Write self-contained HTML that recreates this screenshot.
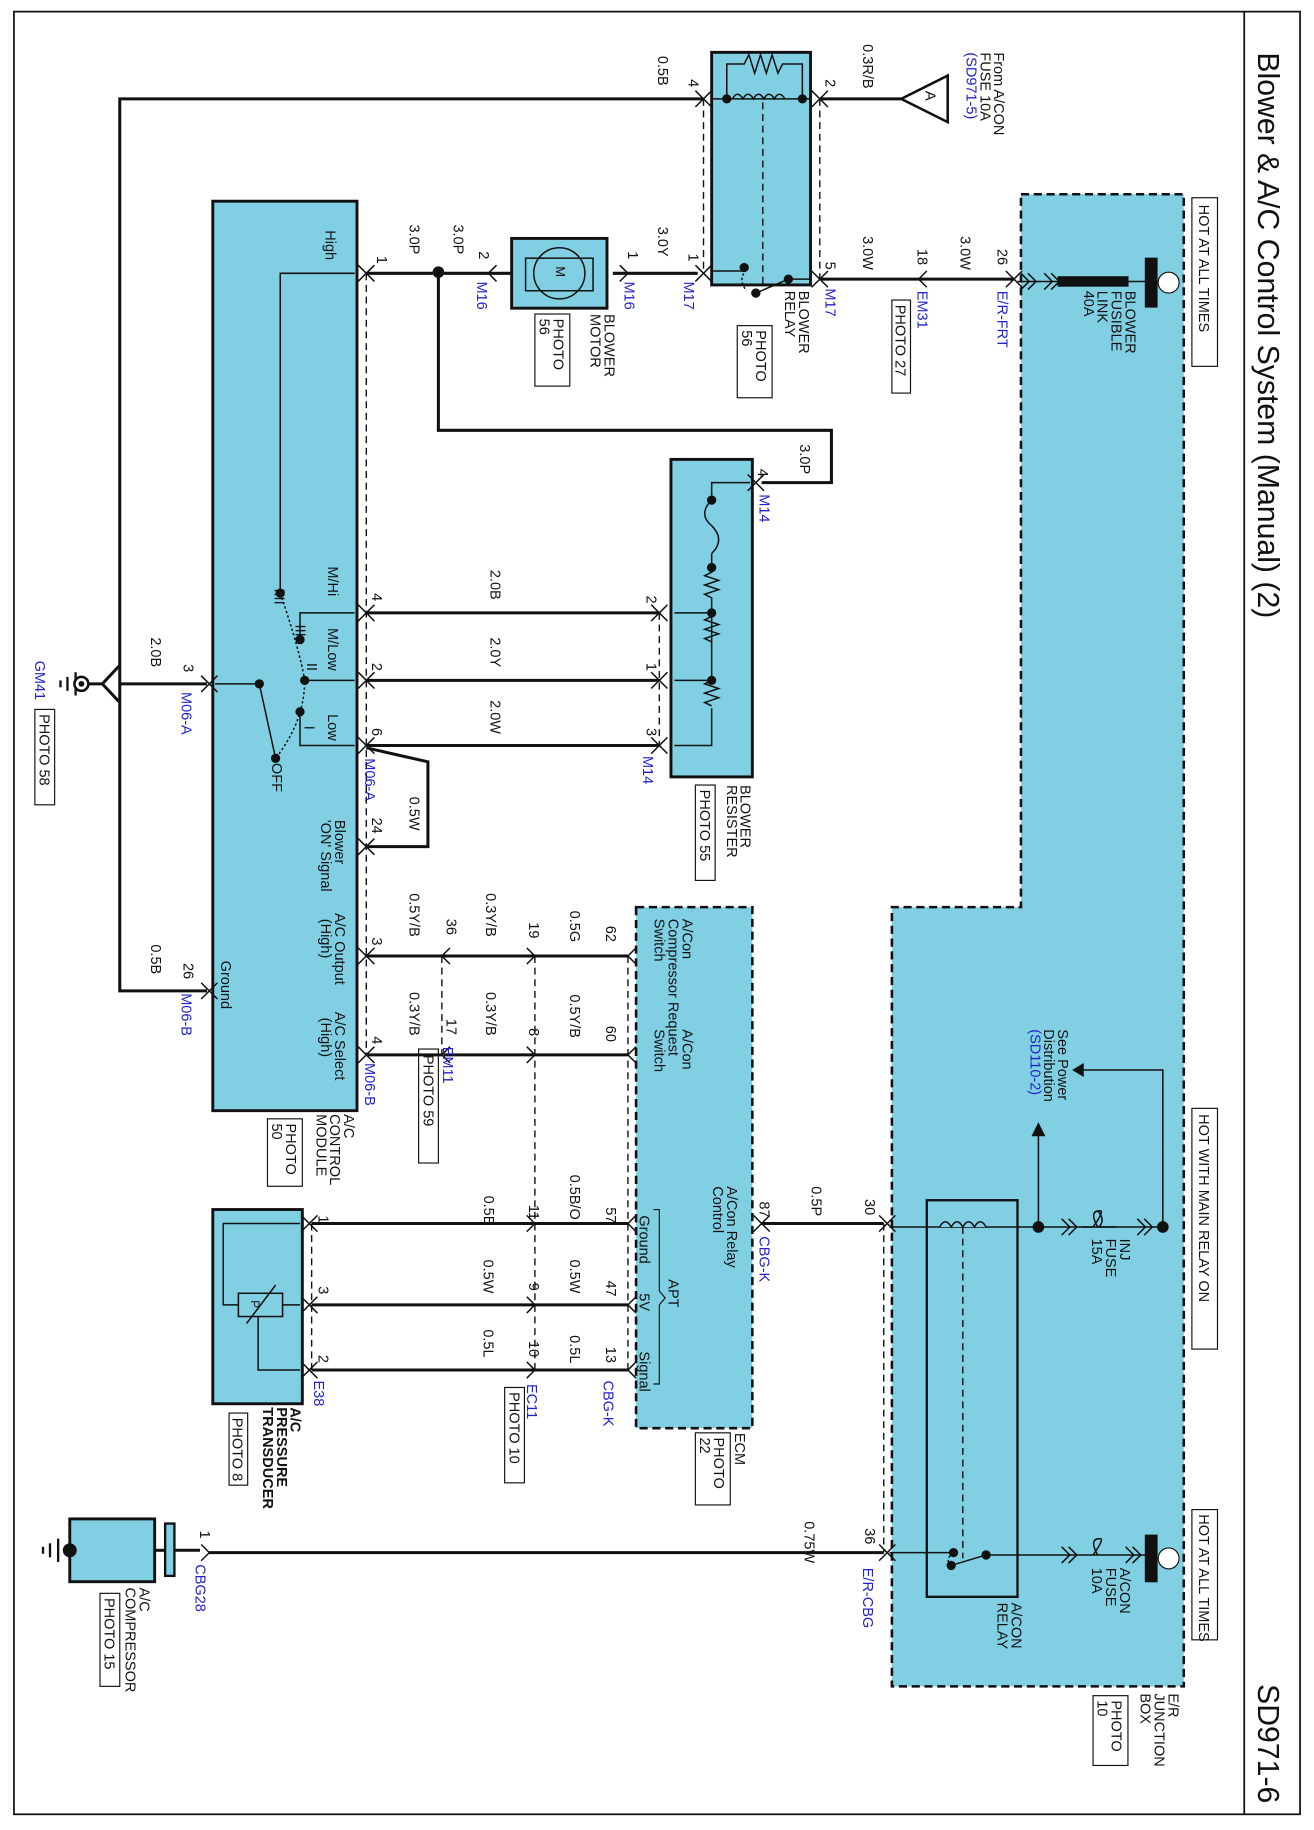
<!DOCTYPE html>
<html><head><meta charset="utf-8"><style>
html,body{margin:0;padding:0;background:#fff}
svg{display:block}
text{font-family:"Liberation Sans",sans-serif;font-size:12.5px;fill:#111}
.b{fill:#2222cc}
.t{font-size:26px}
.bd{font-weight:bold}
</style></head><body>
<svg width="1314" height="1830" viewBox="0 0 1130 1573.5" preserveAspectRatio="none" xmlns="http://www.w3.org/2000/svg">
<defs>
<path id="cv" d="M-7,-7 L0,0 L-7,7 M7,-7 L0,0 L7,7" fill="none" stroke="#111" stroke-width="1.3"/>
<path id="cl" d="M7,-7 L0,0 L7,7" fill="none" stroke="#111" stroke-width="1.3"/>
<path id="cr" d="M-7,-7 L0,0 L-7,7" fill="none" stroke="#111" stroke-width="1.3"/>
<path id="dcr" d="M-7,-7 L0,0 L-7,7 M-1,-7 L6,0 L-1,7" fill="none" stroke="#111" stroke-width="1.3"/>
</defs>
<rect x="12" y="10" width="1106" height="1550" fill="none" stroke="#111" stroke-width="1.5"/>
<line x1="1070" y1="10" x2="1070" y2="1560" stroke="#111" stroke-width="1.5"/>
<text class="t" x="1082" y="45" transform="rotate(90 1082 45)">Blower &amp; A/C Control System    (Manual) (2)</text>
<text class="t" x="1082" y="1448" transform="rotate(90 1082 1448)">SD971-6</text>

<path d="M878,167 L1018,167 L1018,1450 L767,1450 L767,780 L878,780 Z" fill="#80cfe2" stroke="#111" stroke-width="2.2" stroke-dasharray="7,4"/>
<rect x="183" y="173" width="124" height="782" fill="#80cfe2" stroke="#111" stroke-width="2.5"/>
<rect x="577" y="395" width="70" height="273" fill="#80cfe2" stroke="#111" stroke-width="2.5"/>
<rect x="547" y="780" width="100" height="448" fill="#80cfe2" stroke="#111" stroke-width="2.2" stroke-dasharray="7,4"/>
<rect x="612" y="45" width="85" height="200" fill="#80cfe2" stroke="#111" stroke-width="2.5"/>
<rect x="440" y="205" width="82" height="60" fill="#80cfe2" stroke="#111" stroke-width="2.5"/>
<rect x="183" y="1040" width="77" height="167" fill="#80cfe2" stroke="#111" stroke-width="2.5"/>
<rect x="60" y="1306" width="73" height="54" fill="#80cfe2" stroke="#111" stroke-width="2.5"/>
<rect x="142" y="1310" width="8" height="45" fill="#80cfe2" stroke="#111" stroke-width="2"/>
<rect x="797" y="1032" width="78" height="341" fill="none" stroke="#111" stroke-width="2"/>

<rect x="1025" y="170" width="22" height="145" fill="#fff" stroke="#111"/>
<text x="1031" y="176" transform="rotate(90 1031 176)">HOT AT ALL TIMES</text>
<rect x="1025" y="953" width="22" height="207" fill="#fff" stroke="#111"/>
<text x="1031" y="958" transform="rotate(90 1031 958)">HOT WITH MAIN RELAY ON</text>
<rect x="1025" y="1298" width="22" height="112" fill="#fff" stroke="#111"/>
<text x="1031" y="1302" transform="rotate(90 1031 1302)">HOT AT ALL TIMES</text>

<g stroke="#111" fill="none">
<g stroke-width="2.6">
<polyline points="775,85 705,85"/>
<polyline points="605,85 103,85 103,852 178,852"/>
<line x1="103" y1="588" x2="178" y2="588"/>
<polyline points="75,588 88,588 103,572"/>
<polyline points="88,588 103,604"/>
<line x1="600" y1="235" x2="527" y2="235"/>
<line x1="440" y1="235" x2="315" y2="235"/>
<polyline points="377,235 377,370 715,370 715,415 655,415"/>
<line x1="705" y1="240" x2="872" y2="240"/>
<line x1="315" y1="527" x2="567" y2="527"/>
<line x1="315" y1="585" x2="567" y2="585"/>
<line x1="315" y1="641" x2="567" y2="641"/>
<polyline points="315,643 368,655 368,728 315,728"/>
<line x1="315" y1="822" x2="540" y2="822"/>
<line x1="315" y1="907" x2="540" y2="907"/>
<line x1="268" y1="1052" x2="540" y2="1052"/>
<line x1="268" y1="1122" x2="540" y2="1122"/>
<line x1="268" y1="1178" x2="540" y2="1178"/>
<line x1="655" y1="1052" x2="760" y2="1052"/>
<line x1="180" y1="1335" x2="760" y2="1335"/>
<line x1="133" y1="1333" x2="142" y2="1333"/>
<line x1="150" y1="1333" x2="172" y2="1333"/>
</g>
<polygon points="775,85 815,65 815,105" stroke-width="2.2" fill="#fff"/>
<g stroke-width="1.2" stroke-dasharray="6,4">
<line x1="605" y1="85" x2="605" y2="235"/>
<line x1="705" y1="85" x2="705" y2="240"/>
<line x1="315" y1="235" x2="315" y2="907"/>
<line x1="567" y1="527" x2="567" y2="641"/>
<line x1="380" y1="822" x2="380" y2="907"/>
<line x1="460" y1="822" x2="460" y2="1178"/>
<line x1="540" y1="822" x2="540" y2="1178"/>
<line x1="268" y1="1052" x2="268" y2="1178"/>
<line x1="760" y1="1052" x2="760" y2="1335"/>
<line x1="656" y1="88" x2="656" y2="245"/>
<line x1="828" y1="1055" x2="828" y2="1340"/>
</g>
<g stroke-width="1.3">
<line x1="612" y1="85" x2="697" y2="85"/>
<path d="M625,85 L625,55 L640,55 l4,-8 l5,16 l5,-16 l5,16 l5,-16 l5,16 l4,-8 L690,55 L690,85"/>
<path d="M630,85 q4,-8 9,0 q4,-8 9,0 q4,-8 9,0 q4,-8 9,0 q4,-8 9,0"/>
<polyline points="612,233 640,233 640,230"/>
<polyline points="697,240 678,240 650,252"/>
<path d="M642,232 q-8,8 0,18" stroke-dasharray="2,2"/>
<circle cx="481" cy="235" r="22"/>
<rect x="452" y="222" width="58" height="28"/>
<polyline points="645,415 612,415 612,430"/>
<path d="M612,430 q-12,12 0,22 q12,12 0,24"/>
<path d="M612,476 L612,492 l-6,3 l12,4 l-12,4 l12,4 l-12,4 l6,3 L612,585 l-6,3 l12,4 l-12,4 l12,4 l-12,4 l6,3"/>
<path d="M612,530 l-6,3 l12,4 l-12,4 l12,4 l-12,4 l6,3"/>
<path d="M612,609 L612,641 L580,641"/>
<line x1="580" y1="527" x2="612" y2="527"/>
<line x1="580" y1="585" x2="612" y2="585"/>
<polyline points="305,235 241,235 241,510"/>
<polyline points="305,527 258,527 258,550"/>
<line x1="305" y1="585" x2="262" y2="585"/>
<polyline points="305,641 258,641 258,612"/>
<line x1="185" y1="588" x2="223" y2="588"/>
<line x1="223" y1="588" x2="237" y2="652"/>
<path d="M241,510 Q258,560 262,585 Q262,620 237,652" stroke-dasharray="2,2"/>
<polyline points="258,1052 192,1052 192,1122 205,1122"/>
<rect x="205" y="1112" width="38" height="20"/>
<line x1="243" y1="1122" x2="258" y2="1122"/>
<polyline points="222,1132 222,1178 258,1178"/>
<line x1="212" y1="1138" x2="237" y2="1105"/>
<line x1="765" y1="1055" x2="1000" y2="1055"/>
<path d="M808,1055 q5,-9 10,0 q5,-9 10,0 q5,-9 10,0 q5,-9 10,0" fill="#80cfe2"/>
<path d="M930,1055 L940,1055 q10,-14 6,-14 q-10,0 -2,14 L960,1055"/>
<path d="M945,1055 q6,-6 -1,-14" />
<polyline points="1000,1055 1000,920 925,920"/>
<line x1="893" y1="1055" x2="893" y2="975"/>
<line x1="765" y1="1335" x2="820" y2="1335"/>
<line x1="818" y1="1346" x2="848" y2="1337"/>
<line x1="848" y1="1337" x2="990" y2="1337"/>
<path d="M820,1335 q-8,6 -2,11" stroke-dasharray="2,2"/>
<path d="M940,1337 q10,-14 6,-14 q-10,0 -2,14"/>
<line x1="875" y1="242" x2="910" y2="242"/>
</g>
<rect x="910" y="238" width="60" height="8" fill="#111"/>
<rect x="985" y="222" width="10" height="42" fill="#111"/>
<circle cx="1005" cy="243" r="9" fill="#fff" stroke="#111"/>
<rect x="985" y="1320" width="10" height="40" fill="#111"/>
<circle cx="1005" cy="1340" r="9" fill="#fff" stroke="#111"/>
<line x1="970" y1="242" x2="985" y2="242" stroke-width="1.3"/>
<polygon points="922,920 932,914 932,926" fill="#111" stroke="none"/>
<polygon points="893,965 887,977 899,977" fill="#111" stroke="none"/>
<g stroke-width="2">
<line x1="65" y1="578" x2="65" y2="598"/><line x1="58" y1="582" x2="58" y2="594"/><line x1="52" y1="585" x2="52" y2="591"/>
<line x1="50" y1="1323" x2="50" y2="1343"/><line x1="43" y1="1327" x2="43" y2="1339"/><line x1="37" y1="1330" x2="37" y2="1336"/>
</g>
<circle cx="70" cy="588" r="6" stroke-width="2.2" fill="#fff"/>
</g>
<g fill="#111">
<circle cx="70" cy="588" r="2.5"/>
<circle cx="60" cy="1333" r="6"/>
<circle cx="377" cy="234" r="5"/>
<circle cx="625" cy="85" r="4"/><circle cx="690" cy="85" r="4"/>
<circle cx="640" cy="230" r="4"/><circle cx="678" cy="240" r="4"/><circle cx="650" cy="252" r="4"/>
<circle cx="612" cy="430" r="4"/><circle cx="612" cy="488" r="4"/><circle cx="612" cy="527" r="4"/><circle cx="612" cy="585" r="4"/>
<circle cx="241" cy="510" r="4"/><circle cx="258" cy="550" r="4"/><circle cx="262" cy="585" r="4"/><circle cx="258" cy="612" r="4"/><circle cx="223" cy="588" r="4"/><circle cx="237" cy="652" r="4"/>
<circle cx="1000" cy="1055" r="5"/><circle cx="893" cy="1055" r="5"/>
<circle cx="820" cy="1335" r="4"/><circle cx="818" cy="1346" r="4"/><circle cx="848" cy="1337" r="4"/>
</g>
<use href="#cv" x="705" y="85"/><use href="#cv" x="605" y="85"/>
<use href="#cv" x="605" y="235"/><use href="#cv" x="705" y="240"/>
<use href="#cl" x="790" y="240"/><use href="#cv" x="872" y="240"/>
<use href="#cr" x="540" y="235"/><use href="#cl" x="420" y="235"/>
<use href="#cv" x="315" y="235"/><use href="#cv" x="650" y="415"/>
<use href="#cv" x="315" y="527"/><use href="#cv" x="315" y="585"/><use href="#cv" x="315" y="641"/><use href="#cv" x="315" y="728"/>
<use href="#cv" x="315" y="822"/><use href="#cv" x="315" y="907"/>
<use href="#cv" x="567" y="527"/><use href="#cv" x="567" y="585"/><use href="#cv" x="567" y="641"/>
<use href="#cv" x="180" y="588"/><use href="#cv" x="180" y="852"/>
<use href="#cl" x="380" y="822"/><use href="#cl" x="380" y="907"/>
<use href="#cr" x="460" y="822"/><use href="#cr" x="460" y="907"/><use href="#cr" x="460" y="1052"/><use href="#cr" x="460" y="1122"/><use href="#cr" x="460" y="1178"/>
<use href="#cl" x="540" y="822"/><use href="#cl" x="540" y="907"/><use href="#cl" x="540" y="1052"/><use href="#cl" x="540" y="1122"/><use href="#cl" x="540" y="1178"/>
<use href="#cv" x="266" y="1052"/><use href="#cv" x="266" y="1122"/><use href="#cv" x="266" y="1178"/>
<use href="#cv" x="655" y="1052"/><use href="#cv" x="763" y="1052"/><use href="#cv" x="763" y="1335"/>
<use href="#cr" x="180" y="1335"/>
<use href="#dcr" x="920" y="1055"/><use href="#dcr" x="985" y="1055"/>
<use href="#dcr" x="920" y="1337"/><use href="#dcr" x="975" y="1337"/>
<use href="#dcr" x="885" y="242"/><use href="#dcr" x="905" y="242"/>
<text x="796" y="78" transform="rotate(90 796 78)" style="font-size:13px">A</text>
<text x="855" y="45" transform="rotate(90 855 45)">From A/CON</text>
<text x="843" y="45" transform="rotate(90 843 45)">FUSE 10A</text>
<text class="b" x="831" y="45" transform="rotate(90 831 45)">(SD971-5)</text>
<text x="742" y="38" transform="rotate(90 742 38)">0.3R/B</text>
<text x="710" y="68" transform="rotate(90 710 68)">2</text>
<text x="592" y="68" transform="rotate(90 592 68)">4</text>
<text x="566" y="48" transform="rotate(90 566 48)">0.5B</text>
<text x="687" y="250" transform="rotate(90 687 250)">BLOWER</text>
<text x="675" y="250" transform="rotate(90 675 250)">RELAY</text>
<rect x="634" y="280" width="30" height="62" fill="none" stroke="#111"/>
<text x="650" y="284" transform="rotate(90 650 284)">PHOTO</text>
<text x="638" y="284" transform="rotate(90 638 284)">56</text>
<text class="b" x="710" y="248" transform="rotate(90 710 248)">M17</text>
<text x="710" y="225" transform="rotate(90 710 225)">5</text>
<text x="742" y="203" transform="rotate(90 742 203)">3.0W</text>
<text x="789" y="214" transform="rotate(90 789 214)">18</text>
<text class="b" x="789" y="250" transform="rotate(90 789 250)">EM31</text>
<rect x="767" y="258" width="16" height="80" fill="none" stroke="#111"/>
<text x="770" y="262" transform="rotate(90 770 262)">PHOTO 27</text>
<text x="826" y="203" transform="rotate(90 826 203)">3.0W</text>
<text x="858" y="214" transform="rotate(90 858 214)">26</text>
<text class="b" x="858" y="250" transform="rotate(90 858 250)">E/R-FRT</text>
<text x="968" y="250" transform="rotate(90 968 250)">BLOWER</text>
<text x="956" y="250" transform="rotate(90 956 250)">FUSIBLE</text>
<text x="944" y="250" transform="rotate(90 944 250)">LINK</text>
<text x="932" y="250" transform="rotate(90 932 250)">40A</text>
<text x="592" y="218" transform="rotate(90 592 218)">1</text>
<text class="b" x="588" y="242" transform="rotate(90 588 242)">M17</text>
<text x="566" y="195" transform="rotate(90 566 195)">3.0Y</text>
<text x="540" y="216" transform="rotate(90 540 216)">1</text>
<text class="b" x="537" y="242" transform="rotate(90 537 242)">M16</text>
<text x="478" y="229" transform="rotate(90 478 229)" style="font-size:11px">M</text>
<text x="520" y="270" transform="rotate(90 520 270)">BLOWER</text>
<text x="508" y="270" transform="rotate(90 508 270)">MOTOR</text>
<rect x="460" y="270" width="30" height="62" fill="none" stroke="#111"/>
<text x="476" y="274" transform="rotate(90 476 274)">PHOTO</text>
<text x="464" y="274" transform="rotate(90 464 274)">56</text>
<text x="412" y="216" transform="rotate(90 412 216)">2</text>
<text class="b" x="410" y="242" transform="rotate(90 410 242)">M16</text>
<text x="390" y="193" transform="rotate(90 390 193)">3.0P</text>
<text x="352" y="193" transform="rotate(90 352 193)">3.0P</text>
<text x="324" y="220" transform="rotate(90 324 220)">1</text>
<text x="280" y="198" transform="rotate(90 280 198)">High</text>
<text x="688" y="382" transform="rotate(90 688 382)">3.0P</text>
<text x="652" y="403" transform="rotate(90 652 403)">4</text>
<text class="b" x="653" y="425" transform="rotate(90 653 425)">M14</text>
<text x="422" y="490" transform="rotate(90 422 490)">2.0B</text>
<text x="422" y="548" transform="rotate(90 422 548)">2.0Y</text>
<text x="422" y="602" transform="rotate(90 422 602)">2.0W</text>
<text x="556" y="512" transform="rotate(90 556 512)">2</text>
<text x="556" y="570" transform="rotate(90 556 570)">1</text>
<text x="556" y="626" transform="rotate(90 556 626)">3</text>
<text class="b" x="553" y="650" transform="rotate(90 553 650)">M14</text>
<text x="637" y="675" transform="rotate(90 637 675)">BLOWER</text>
<text x="625" y="675" transform="rotate(90 625 675)">RESISTER</text>
<rect x="598" y="675" width="17" height="82" fill="none" stroke="#111"/>
<text x="602" y="679" transform="rotate(90 602 679)">PHOTO 55</text>
<text x="320" y="510" transform="rotate(90 320 510)">4</text>
<text x="320" y="570" transform="rotate(90 320 570)">2</text>
<text x="320" y="626" transform="rotate(90 320 626)">6</text>
<text class="b" x="314" y="652" transform="rotate(90 314 652)">M06-A</text>
<text x="320" y="703" transform="rotate(90 320 703)">24</text>
<text x="352" y="685" transform="rotate(90 352 685)">0.5W</text>
<text x="320" y="806" transform="rotate(90 320 806)">3</text>
<text x="320" y="891" transform="rotate(90 320 891)">4</text>
<text class="b" x="314" y="914" transform="rotate(90 314 914)">M06-B</text>
<text x="282" y="487" transform="rotate(90 282 487)">M/Hi</text>
<text x="282" y="540" transform="rotate(90 282 540)">M/Low</text>
<text x="282" y="614" transform="rotate(90 282 614)">Low</text>
<text x="236" y="506" transform="rotate(90 236 506)">IIII</text>
<text x="254" y="537" transform="rotate(90 254 537)">III</text>
<text x="264" y="570" transform="rotate(90 264 570)">II</text>
<text x="262" y="624" transform="rotate(90 262 624)">I</text>
<text x="234" y="656" transform="rotate(90 234 656)">OFF</text>
<text x="288" y="705" transform="rotate(90 288 705)">Blower</text>
<text x="276" y="705" transform="rotate(90 276 705)">'ON' Signal</text>
<text x="288" y="785" transform="rotate(90 288 785)">A/C Output</text>
<text x="276" y="790" transform="rotate(90 276 790)">(High)</text>
<text x="288" y="870" transform="rotate(90 288 870)">A/C Select</text>
<text x="276" y="875" transform="rotate(90 276 875)">(High)</text>
<text x="190" y="826" transform="rotate(90 190 826)">Ground</text>
<text x="158" y="571" transform="rotate(90 158 571)">3</text>
<text class="b" x="156" y="595" transform="rotate(90 156 595)">M06-A</text>
<text x="130" y="548" transform="rotate(90 130 548)">2.0B</text>
<text x="158" y="828" transform="rotate(90 158 828)">26</text>
<text class="b" x="156" y="854" transform="rotate(90 156 854)">M06-B</text>
<text x="130" y="812" transform="rotate(90 130 812)">0.5B</text>
<text class="b" x="30" y="568" transform="rotate(90 30 568)">GM41</text>
<rect x="30" y="610" width="17" height="82" fill="none" stroke="#111"/>
<text x="34" y="614" transform="rotate(90 34 614)">PHOTO 58</text>
<text x="296" y="958" transform="rotate(90 296 958)">A/C</text>
<text x="284" y="958" transform="rotate(90 284 958)">CONTROL</text>
<text x="272" y="958" transform="rotate(90 272 958)">MODULE</text>
<rect x="230" y="962" width="30" height="58" fill="none" stroke="#111"/>
<text x="246" y="966" transform="rotate(90 246 966)">PHOTO</text>
<text x="234" y="966" transform="rotate(90 234 966)">50</text>
<text x="352" y="768" transform="rotate(90 352 768)">0.5Y/B</text>
<text x="352" y="853" transform="rotate(90 352 853)">0.3Y/B</text>
<text x="384" y="790" transform="rotate(90 384 790)">36</text>
<text x="384" y="876" transform="rotate(90 384 876)">17</text>
<text class="b" x="381" y="900" transform="rotate(90 381 900)">EM11</text>
<rect x="360" y="902" width="17" height="98" fill="none" stroke="#111"/>
<text x="364" y="907" transform="rotate(90 364 907)">PHOTO 59</text>
<text x="418" y="768" transform="rotate(90 418 768)">0.3Y/B</text>
<text x="418" y="853" transform="rotate(90 418 853)">0.3Y/B</text>
<text x="455" y="793" transform="rotate(90 455 793)">19</text>
<text x="455" y="884" transform="rotate(90 455 884)">8</text>
<text x="490" y="783" transform="rotate(90 490 783)">0.5G</text>
<text x="490" y="855" transform="rotate(90 490 855)">0.5Y/B</text>
<text x="521" y="796" transform="rotate(90 521 796)">62</text>
<text x="521" y="882" transform="rotate(90 521 882)">60</text>
<text x="587" y="790" transform="rotate(90 587 790)">A/Con</text>
<text x="575" y="790" transform="rotate(90 575 790)">Compressor  Request</text>
<text x="563" y="790" transform="rotate(90 563 790)">Switch</text>
<text x="587" y="885" transform="rotate(90 587 885)">A/Con</text>
<text x="563" y="885" transform="rotate(90 563 885)">Switch</text>
<text x="625" y="1020" transform="rotate(90 625 1020)">A/Con Relay</text>
<text x="613" y="1020" transform="rotate(90 613 1020)">Control</text>
<text x="653" y="1033" transform="rotate(90 653 1033)">87</text>
<text class="b" x="653" y="1063" transform="rotate(90 653 1063)">CBG-K</text>
<text x="698" y="1020" transform="rotate(90 698 1020)">0.5P</text>
<text x="744" y="1031" transform="rotate(90 744 1031)">30</text>
<text x="550" y="1045" transform="rotate(90 550 1045)">Ground</text>
<text x="550" y="1112" transform="rotate(90 550 1112)">5V</text>
<text x="550" y="1162" transform="rotate(90 550 1162)">Signal</text>
<text x="575" y="1100" transform="rotate(90 575 1100)">APT</text>
<path d="M562,1040 L567,1040 L567,1110 L572,1116 L567,1122 L567,1190 L562,1190" fill="none" stroke="#111"/>
<text x="521" y="1038" transform="rotate(90 521 1038)">57</text>
<text x="521" y="1101" transform="rotate(90 521 1101)">47</text>
<text x="521" y="1158" transform="rotate(90 521 1158)">13</text>
<text class="b" x="519" y="1187" transform="rotate(90 519 1187)">CBG-K</text>
<text x="490" y="1010" transform="rotate(90 490 1010)">0.5B/O</text>
<text x="490" y="1083" transform="rotate(90 490 1083)">0.5W</text>
<text x="490" y="1148" transform="rotate(90 490 1148)">0.5L</text>
<text x="455" y="1036" transform="rotate(90 455 1036)">11</text>
<text x="455" y="1103" transform="rotate(90 455 1103)">9</text>
<text x="455" y="1153" transform="rotate(90 455 1153)">10</text>
<text class="b" x="453" y="1190" transform="rotate(90 453 1190)">EC11</text>
<rect x="434" y="1193" width="17" height="82" fill="none" stroke="#111"/>
<text x="438" y="1197" transform="rotate(90 438 1197)">PHOTO 10</text>
<text x="416" y="1028" transform="rotate(90 416 1028)">0.5B</text>
<text x="416" y="1083" transform="rotate(90 416 1083)">0.5W</text>
<text x="416" y="1143" transform="rotate(90 416 1143)">0.5L</text>
<text x="274" y="1045" transform="rotate(90 274 1045)">1</text>
<text x="274" y="1106" transform="rotate(90 274 1106)">3</text>
<text x="274" y="1165" transform="rotate(90 274 1165)">2</text>
<text class="b" x="270" y="1187" transform="rotate(90 270 1187)">E38</text>
<text x="216" y="1118" transform="rotate(90 216 1118)" style="font-size:10px">P</text>
<text x="632" y="1232" transform="rotate(90 632 1232)">ECM</text>
<rect x="598" y="1232" width="30" height="62" fill="none" stroke="#111"/>
<text x="614" y="1236" transform="rotate(90 614 1236)">PHOTO</text>
<text x="602" y="1236" transform="rotate(90 602 1236)">22</text>
<text class="bd" x="250" y="1210" transform="rotate(90 250 1210)">A/C</text>
<text class="bd" x="238" y="1210" transform="rotate(90 238 1210)">PRESSURE</text>
<text class="bd" x="226" y="1210" transform="rotate(90 226 1210)">TRANSDUCER</text>
<rect x="197" y="1215" width="16" height="62" fill="none" stroke="#111"/>
<text x="200" y="1219" transform="rotate(90 200 1219)">PHOTO 8</text>
<text x="692" y="1308" transform="rotate(90 692 1308)">0.75W</text>
<text x="744" y="1314" transform="rotate(90 744 1314)">36</text>
<text class="b" x="742" y="1348" transform="rotate(90 742 1348)">E/R-CBG</text>
<text x="172" y="1316" transform="rotate(90 172 1316)">1</text>
<text class="b" x="168" y="1345" transform="rotate(90 168 1345)">CBG28</text>
<text x="120" y="1365" transform="rotate(90 120 1365)">A/C</text>
<text x="108" y="1365" transform="rotate(90 108 1365)">COMPRESSOR</text>
<rect x="86" y="1370" width="17" height="80" fill="none" stroke="#111"/>
<text x="90" y="1374" transform="rotate(90 90 1374)">PHOTO 15</text>
<text x="963" y="1065" transform="rotate(90 963 1065)">INJ</text>
<text x="951" y="1065" transform="rotate(90 951 1065)">FUSE</text>
<text x="939" y="1065" transform="rotate(90 939 1065)">15A</text>
<text x="910" y="885" transform="rotate(90 910 885)">See Power</text>
<text x="898" y="885" transform="rotate(90 898 885)">Distribution</text>
<text class="b" x="886" y="885" transform="rotate(90 886 885)">(SD110-2)</text>
<text x="963" y="1348" transform="rotate(90 963 1348)">A/CON</text>
<text x="951" y="1348" transform="rotate(90 951 1348)">FUSE</text>
<text x="939" y="1348" transform="rotate(90 939 1348)">10A</text>
<text x="870" y="1378" transform="rotate(90 870 1378)">A/CON</text>
<text x="858" y="1378" transform="rotate(90 858 1378)">RELAY</text>
<text x="1005" y="1456" transform="rotate(90 1005 1456)">E/R</text>
<text x="993" y="1456" transform="rotate(90 993 1456)">JUNCTION</text>
<text x="981" y="1456" transform="rotate(90 981 1456)">BOX</text>
<rect x="940" y="1458" width="30" height="60" fill="none" stroke="#111"/>
<text x="956" y="1462" transform="rotate(90 956 1462)">PHOTO</text>
<text x="944" y="1462" transform="rotate(90 944 1462)">10</text>
</svg>
</body></html>
